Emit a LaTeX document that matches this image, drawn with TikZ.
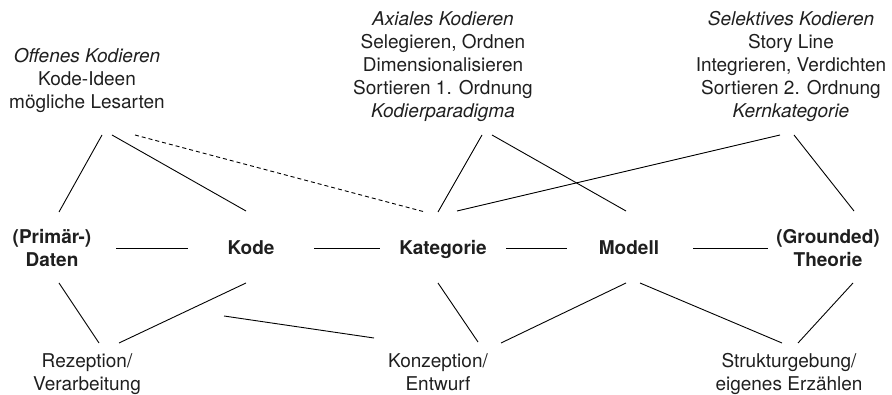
\documentclass[tikz,border=0pt]{standalone}
\usepackage{fontspec}
\setmainfont{TeX Gyre Heros}
\usetikzlibrary{calc}
\tikzset{
  lbl/.style={anchor=base, inner sep=0pt, align=center, text=black!88,
    font=\fontsize{19}{23}\selectfont},
  main/.style={lbl, font=\fontsize{19}{23}\selectfont\bfseries},
  conn/.style={line width=0.9pt, black},
  dconn/.style={conn, dash pattern=on 4pt off 3pt}
}
\begin{document}
\begin{tikzpicture}[x=1pt, y=-1pt]
\useasboundingbox (0,0) rectangle (892,395);
% top labels (base = baseline of last line)
\node[lbl] (off) at (87,109) {\itshape Offenes Kodieren\\Kode-Ideen\\mögliche Lesarten};
\node[lbl] (ax) at (443,118) {\itshape Axiales Kodieren\\Selegieren, Ordnen\\Dimensionalisieren\\Sortieren 1. Ordnung\\\itshape Kodierparadigma};
\node[lbl] (sel) at (791,118) {\itshape Selektives Kodieren\\Story Line\\Integrieren, Verdichten\\Sortieren 2. Ordnung\\\itshape Kernkategorie};
% main nodes
\node[main] (dat) at (52,267) {(Primär-)\\Daten};
\node[main] (kode) at (251,255) {Kode};
\node[main] (kat) at (443,255) {Kategorie};
\node[main] (mod) at (629,255) {Modell};
\node[main] (theo) at (828,267) {(Grounded)\\Theorie};
% bottom labels
\node[lbl] (rez) at (87,391) {Rezeption/\\Verarbeitung};
\node[lbl] (konz) at (438,391) {Konzeption/\\Entwurf};
\node[lbl] (struk) at (789,391) {Strukturgebung/\\eigenes Erzählen};
% connectors top
\draw[conn] ($(off.base)+(15,26)$) -- ($(dat.base)+(7,-55)$);
\draw[conn] ($(off.base)+(25,26)$) -- ($(kode.base)+(-5,-44)$);
\draw[dconn] ($(off.base)+(48,26)$) -- ($(kat.base)+(-18,-43)$);
\draw[conn] ($(ax.base)+(39,17)$) -- ($(kat.base)+(-5,-43)$);
\draw[conn] ($(ax.base)+(49,17)$) -- ($(mod.base)+(-3,-44)$);
\draw[conn] ($(sel.base)+(-11,17)$) -- ($(kat.base)+(14,-44)$);
\draw[conn] ($(sel.base)+(3,17)$) -- ($(theo.base)+(26,-56)$);
% horizontal
\draw[conn] ($(dat.base)+(64,-19)$) -- ($(kode.base)+(-63,-7)$);
\draw[conn] ($(kode.base)+(63,-7)$) -- ($(kat.base)+(-63,-7)$);
\draw[conn] ($(kat.base)+(63,-7)$) -- ($(mod.base)+(-62,-7)$);
\draw[conn] ($(mod.base)+(64,-7)$) -- ($(theo.base)+(-60,-19)$);
% bottom
\draw[conn] ($(dat.base)+(7,16)$) -- ($(rez.base)+(12,-48)$);
\draw[conn] ($(kode.base)+(-5,28)$) -- ($(rez.base)+(32,-48)$);
\draw[conn] ($(kode.base)+(-27,61)$) -- ($(konz.base)+(-64,-53)$);
\draw[conn] ($(kat.base)+(-5,28)$) -- ($(konz.base)+(40,-49)$);
\draw[conn] ($(mod.base)+(-3,28)$) -- ($(konz.base)+(63,-48)$);
\draw[conn] ($(mod.base)+(11,28)$) -- ($(struk.base)+(-7,-48)$);
\draw[conn] ($(theo.base)+(25,16)$) -- ($(struk.base)+(9,-48)$);
\end{tikzpicture}
\end{document}
